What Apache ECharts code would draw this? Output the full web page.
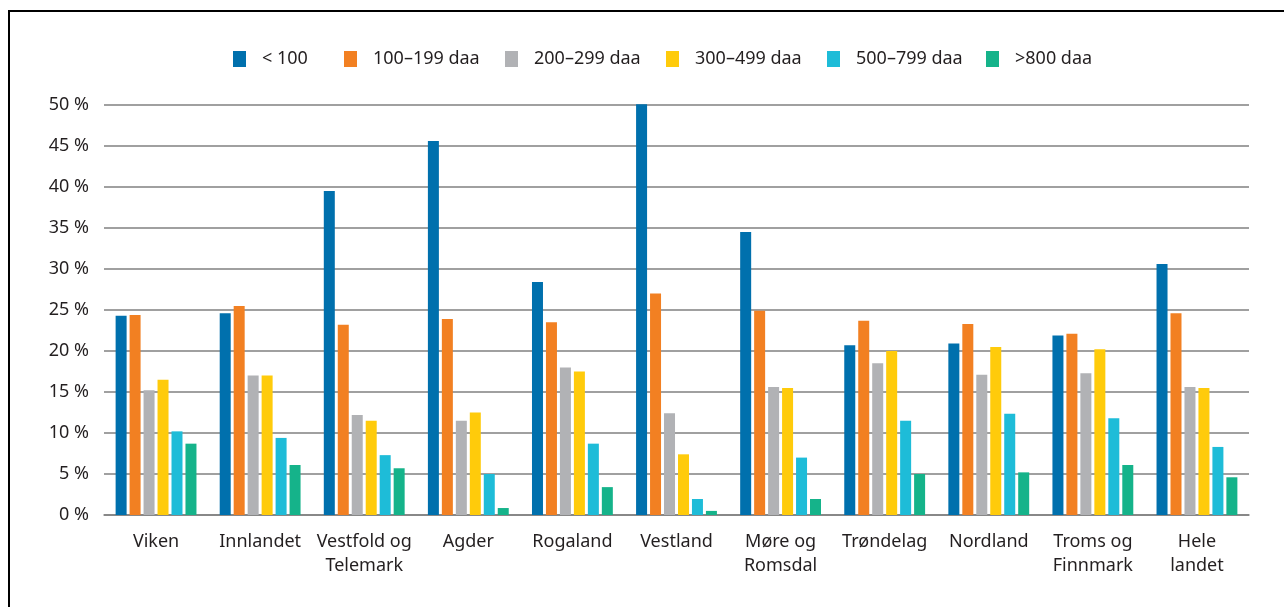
<!DOCTYPE html>
<html>
<head>
<meta charset="utf-8">
<script src="https://cdn.jsdelivr.net/npm/echarts@6/dist/echarts.min.js"></script>
<style>
html,body{margin:0;padding:0;background:#fff;}
#chart{width:1284px;height:607px;}
</style>
</head>
<body>
<div id="chart"></div>
<script>
const categories = ['Viken','Innlandet','Vestfold og\nTelemark','Agder','Rogaland','Vestland','Møre og\nRomsdal','Trøndelag','Nordland','Troms og\nFinnmark','Hele\nlandet'];
const seriesNames = ['< 100','100–199 daa','200–299 daa','300–499 daa','500–799 daa','>800 daa'];
const under100   = [24.3, 24.6, 39.5, 45.6, 28.4, 50.1, 34.5, 20.7, 20.9, 21.9, 30.6];
const d100_199   = [24.4, 25.5, 23.2, 23.9, 23.5, 27.0, 24.9, 23.7, 23.3, 22.1, 24.6];
const d200_299   = [15.2, 17.0, 12.2, 11.5, 18.0, 12.4, 15.6, 18.5, 17.1, 17.3, 15.6];
const d300_499   = [16.5, 17.0, 11.5, 12.5, 17.5, 7.4, 15.5, 20.0, 20.5, 20.2, 15.5];
const d500_799   = [10.2, 9.4, 7.3, 5.0, 8.7, 1.95, 7.0, 11.5, 12.35, 11.8, 8.3];
const over800    = [8.7, 6.1, 5.7, 0.85, 3.4, 0.5, 1.95, 5.0, 5.2, 6.1, 4.6];
const yTicks = [0,5,10,15,20,25,30,35,40,45,50];

const seriesData = [under100, d100_199, d200_299, d300_499, d500_799, over800];
const colors = ['#0070AD','#F28022','#B1B2B5','#FFCB0B','#1EBCD8','#15B38A'];
const legendLeft = [233, 344, 505, 666, 827, 986];
const font = 'Noto Sans';

const chart = echarts.init(document.getElementById('chart'), null, {renderer:'canvas'});
chart.setOption({
  animation:false,
  color: colors,
  textStyle:{fontFamily:font},
  legend: seriesNames.map((n,i)=>({
    data:[n], left:legendLeft[i], top:50, padding:0, itemWidth:13, itemHeight:16,
    icon:'rect', selectedMode:false,
    textStyle:{fontSize:18, color:'#231f20', fontFamily:font, padding:[0,0,0,11]}
  })),
  grid:{left:104, right:35, top:105, bottom:92, containLabel:false},
  xAxis:{
    type:'category', data:categories,
    axisLine:{show:true, lineStyle:{color:'#808080', width:1.5}},
    axisTick:{show:false},
    axisLabel:{fontSize:18, color:'#231f20', margin:15, lineHeight:24, interval:0, fontFamily:font}
  },
  yAxis:{
    type:'value', min:0, max:50, interval:5,
    axisLine:{show:false}, axisTick:{show:false},
    splitLine:{lineStyle:{color:'#808080', width:1.5}},
    axisLabel:{fontSize:18, color:'#231f20', margin:15, fontFamily:font, formatter:(v)=> v + ' %'}
  },
  series: seriesNames.map((n,i)=>({
    name:n, type:'bar', data:seriesData[i], barWidth:11, barGap:'27%', clip:false,
    itemStyle:{color:colors[i]}
  })),
  graphic:[{
    type:'polyline', silent:true,
    shape:{points:[[9,607],[9,11],[1284,11]]},
    style:{stroke:'#000', lineWidth:2, fill:null}
  }]
});
</script>
</body>
</html>
